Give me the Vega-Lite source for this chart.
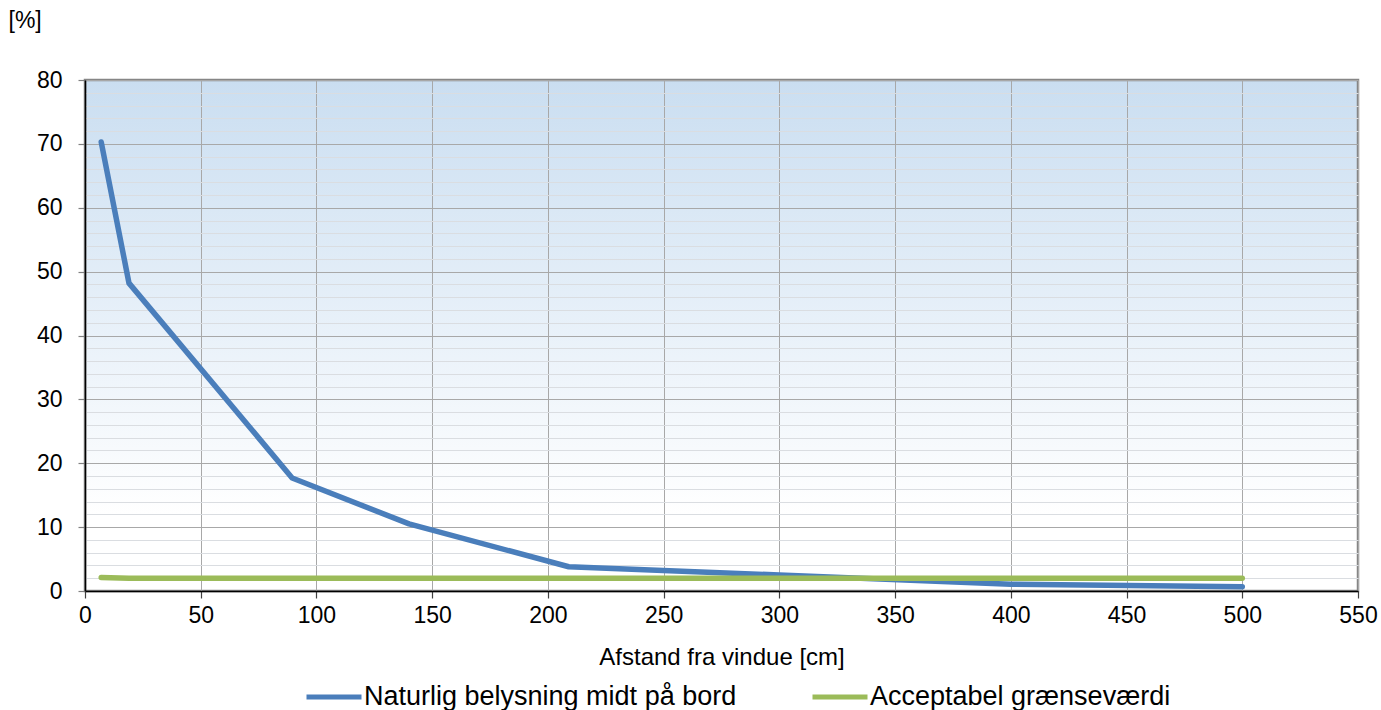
{
  "$schema": "https://vega.github.io/schema/vega-lite/v6.json",
  "width": 1273,
  "height": 511,
  "autosize": "none",
  "padding": {"left": 85, "top": 80, "right": 23, "bottom": 119},
  "background": "white",
  "config": {
    "font": "Liberation Sans",
    "view": {
      "stroke": "#868686",
      "strokeWidth": 2.5,
      "fill": {"gradient": "linear", "x1": 0, "y1": 0, "x2": 0, "y2": 1,
        "stops": [{"offset": 0, "color": "#cadef1"}, {"offset": 0.85, "color": "#ffffff"}, {"offset": 1, "color": "#ffffff"}]}
    }
  },
  "data": {
    "values": [
      {"series": "Naturlig belysning midt på bord", "x": 7, "y": 70.3},
      {"series": "Naturlig belysning midt på bord", "x": 19, "y": 48.2},
      {"series": "Naturlig belysning midt på bord", "x": 89.5, "y": 17.7},
      {"series": "Naturlig belysning midt på bord", "x": 140, "y": 10.5},
      {"series": "Naturlig belysning midt på bord", "x": 209, "y": 3.8},
      {"series": "Naturlig belysning midt på bord", "x": 300, "y": 2.5},
      {"series": "Naturlig belysning midt på bord", "x": 400, "y": 1.05},
      {"series": "Naturlig belysning midt på bord", "x": 500, "y": 0.68},
      {"series": "Acceptabel grænseværdi", "x": 7, "y": 2.12},
      {"series": "Acceptabel grænseværdi", "x": 19, "y": 2.0},
      {"series": "Acceptabel grænseværdi", "x": 500, "y": 2.0}
    ]
  },
  "layer": [
    {
      "mark": {"type": "line", "strokeOpacity": 0},
      "encoding": {
        "x": {"field": "x", "type": "quantitative", "scale": {"domain": [0, 550], "nice": false},
          "axis": {"values": [0,50,100,150,200,250,300,350,400,450,500,550], "grid": true, "gridColor": "#a8a8a8", "gridWidth": 1,
            "domainColor": "#000000", "domainWidth": 1.5, "tickColor": "#404040", "tickSize": 7, "tickWidth": 1.2,
            "labelFontSize": 23, "labelColor": "#000000", "labelPadding": 6, "labelFlush": false,
            "title": "Afstand fra vindue [cm]", "titleFontSize": 24, "titleFontWeight": "normal", "titleColor": "#000000",
            "titleY": 66, "titleBaseline": "middle"}},
        "y": {"field": "y", "type": "quantitative", "scale": {"domain": [0, 80], "nice": false},
          "axis": {"orient": "right", "values": [2,4,6,8,12,14,16,18,22,24,26,28,32,34,36,38,42,44,46,48,52,54,56,58,62,64,66,68,72,74,76,78],
            "grid": true, "gridColor": "#dadde1", "gridWidth": 1, "labels": false, "ticks": false, "domain": false, "title": null}},
        "detail": {"field": "series"}
      }
    },
    {
      "mark": {"type": "line", "strokeWidth": 5.5, "strokeCap": "round", "strokeJoin": "round"},
      "encoding": {
        "x": {"field": "x", "type": "quantitative", "scale": {"domain": [0, 550], "nice": false},
          "axis": {"values": [0,50,100,150,200,250,300,350,400,450,500,550], "grid": true, "gridColor": "#a8a8a8", "gridWidth": 1,
            "domainColor": "#000000", "domainWidth": 1.5, "tickColor": "#404040", "tickSize": 7, "tickWidth": 1.2,
            "labelFontSize": 23, "labelColor": "#000000", "labelPadding": 6, "labelFlush": false,
            "title": "Afstand fra vindue [cm]", "titleFontSize": 24, "titleFontWeight": "normal", "titleColor": "#000000",
            "titleY": 66, "titleBaseline": "middle"}},
        "y": {"field": "y", "type": "quantitative", "scale": {"domain": [0, 80], "nice": false},
          "axis": {"values": [0,10,20,30,40,50,60,70,80], "grid": true, "gridColor": "#a8a8a8", "gridWidth": 1,
            "domainColor": "#000000", "domainWidth": 1.5, "tickColor": "#808080", "tickSize": 7, "tickWidth": 1.2,
            "labelFontSize": 23, "labelColor": "#000000", "labelPadding": 16, "labelFlush": false,
            "title": "[%]", "titleFontSize": 23, "titleFontWeight": "normal", "titleColor": "#000000", "titleAngle": 0,
            "titleX": -77, "titleY": -60, "titleAlign": "left", "titleBaseline": "middle"}},
        "color": {"field": "series", "type": "nominal",
          "scale": {"domain": ["Naturlig belysning midt på bord", "Acceptabel grænseværdi"], "range": ["#4a7ebb", "#9bbb59"]},
          "legend": {"orient": "none", "legendX": 219, "legendY": 587, "direction": "horizontal", "title": null,
            "symbolType": "stroke", "symbolSize": 3025, "symbolStrokeWidth": 5, "labelFontSize": 27, "labelColor": "#000000",
            "labelOffset": 0, "columnPadding": 65, "labelLimit": 600}}
      }
    }
  ],
  "resolve": {"axis": {"y": "independent"}}
}
